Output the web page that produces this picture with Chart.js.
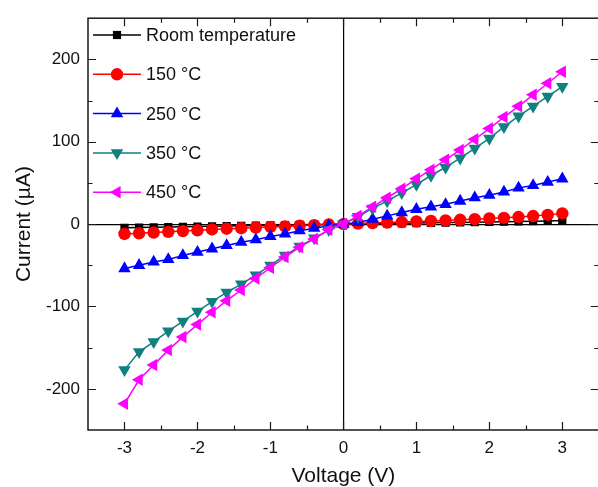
<!DOCTYPE html>
<html>
<head>
<meta charset="utf-8">
<script src="https://cdn.jsdelivr.net/npm/chart.js@4.4.1/dist/chart.umd.min.js"></script>
<style>
html, body { margin: 0; padding: 0; background: #fff; overflow: hidden; }
#wrap { width: 606px; height: 487px; }
</style>
</head>
<body>
<div id="wrap"><canvas id="chart" width="606" height="487"></canvas></div>
<script>
// I-V curves
const voltage = [-3, -2.8, -2.6, -2.4, -2.2, -2, -1.8, -1.6, -1.4, -1.2, -1, -0.8, -0.6, -0.4, -0.2, 0,
                 0.2, 0.4, 0.6, 0.8, 1, 1.2, 1.4, 1.6, 1.8, 2, 2.2, 2.4, 2.6, 2.8, 3];

const roomTemp = [-4.5, -4.2, -3.9, -3.6, -3.3, -3, -2.7, -2.4, -2.1, -1.8, -1.5, -1.2, -0.9, -0.6, -0.3, 0,
                  0.3, 0.5, 0.8, 1, 1.3, 1.5, 1.8, 2, 2.3, 2.6, 2.9, 3.2, 3.5, 3.9, 4.3];
const temp150 = [-12, -11.2, -10.2, -9.4, -8.5, -7.5, -6.5, -5.6, -5, -4.2, -3.4, -2.8, -2, -1.2, -0.5, 0,
                 0.6, 1.2, 1.8, 2.5, 3.2, 3.8, 4.5, 5.2, 6, 6.8, 7.6, 8.6, 9.8, 11.2, 13];
const temp250 = [-54, -50, -46, -43, -38, -34, -30, -26, -22, -19, -15, -12, -8, -5, -2, 0,
                 2, 6, 10, 14, 18, 21, 24, 28, 32, 35, 39, 44, 47, 51, 55];
const temp350 = [-177, -155, -143, -130, -118, -106, -94, -83, -73, -62, -50, -38, -27, -17, -7, 0,
                 9, 19, 28, 38, 48, 59, 69, 80, 92, 104, 118, 131, 143, 155, 167];
const temp450 = [-218, -189, -171, -153, -137, -122, -107, -93, -80, -66, -53, -40, -28, -18, -7, 0,
                 10, 21, 32, 43, 55, 66, 78, 90, 103, 116, 130, 143, 157, 171, 185];

const seriesLabels = ['Room temperature', '150 \u00B0C', '250 \u00B0C', '350 \u00B0C', '450 \u00B0C'];
const seriesValues = [roomTemp, temp150, temp250, temp350, temp450];

const xTicks = [-3, -2, -1, 0, 1, 2, 3];
const xMinorTicks = [-2.5, -1.5, -0.5, 0.5, 1.5, 2.5];
const yTicks = [-200, -100, 0, 100, 200];
const yMinorTicks = [-150, -50, 50, 150];

const STYLES = [
    {color: '#000000', pointStyle: 'rect', radius: 5.8, rotation: 0},
    {color: '#ff0000', pointStyle: 'circle', radius: 6.2, rotation: 0},
    {color: '#0000ff', pointStyle: 'triangle', radius: 7.2, rotation: 0},
    {color: '#0f7f7f', pointStyle: 'triangle', radius: 7.2, rotation: 180},
    {color: '#ff00ff', pointStyle: 'triangle', radius: 7.2, rotation: -90},
];

const FONT = '"Liberation Sans", Arial, sans-serif';

const datasets = seriesValues.map((values, i) => {
    const s = STYLES[i];
    return {
        label: seriesLabels[i],
        data: voltage.map((v, j) => ({x: v, y: values[j]})),
        showLine: true,
        borderColor: s.color,
        backgroundColor: s.color,
        borderWidth: 1.5,
        pointStyle: s.pointStyle,
        pointRadius: s.radius,
        pointRotation: s.rotation,
        pointBorderWidth: 0,
        pointBackgroundColor: s.color,
        order: 5 - i,
    };
});

// frame + inward ticks on all four sides
const frameTicks = {
    id: 'frameTicks',
    afterDatasetsDraw(chart) {
        const {ctx, chartArea: a, scales} = chart;
        const xs = scales.x, ys = scales.y;
        ctx.save();
        ctx.strokeStyle = '#1a1a1a';
        ctx.lineWidth = 1.5;
        ctx.strokeRect(a.left, a.top, a.right - a.left, a.bottom - a.top);
        ctx.lineWidth = 1.2;
        ctx.beginPath();
        const xt = (vals, len) => vals.forEach(v => {
            const px = Math.round(xs.getPixelForValue(v)) + 0.5;
            ctx.moveTo(px, a.bottom); ctx.lineTo(px, a.bottom - len);
            ctx.moveTo(px, a.top); ctx.lineTo(px, a.top + len);
        });
        const yt = (vals, len) => vals.forEach(v => {
            const py = Math.round(ys.getPixelForValue(v)) + 0.5;
            ctx.moveTo(a.left, py); ctx.lineTo(a.left + len, py);
            ctx.moveTo(a.right, py); ctx.lineTo(a.right - len, py);
        });
        xt(xTicks, 8); xt(xMinorTicks, 4.5);
        yt(yTicks, 8); yt(yMinorTicks, 4.5);
        ctx.stroke();
        ctx.restore();
    }
};

// legend in the top-left corner, line with marker like the original
const insetLegend = {
    id: 'insetLegend',
    afterDraw(chart) {
        const {ctx} = chart;
        ctx.save();
        chart.data.datasets.forEach((ds, i) => {
            const y = 35 + i * 39.3;
            ctx.strokeStyle = ds.borderColor;
            ctx.lineWidth = 1.5;
            ctx.beginPath();
            ctx.moveTo(93, y); ctx.lineTo(141, y);
            ctx.stroke();
            ctx.fillStyle = ds.borderColor;
            Chart.helpers.drawPoint(ctx, {
                pointStyle: ds.pointStyle,
                radius: ds.pointRadius,
                rotation: ds.pointRotation,
                borderWidth: 0
            }, 117, y);
            ctx.fillStyle = '#111';
            ctx.font = '18px ' + FONT;
            ctx.textBaseline = 'middle';
            ctx.fillText(ds.label, 146, y + 1);
        });
        ctx.restore();
    }
};

const zeroGrid = (ctx) => ctx.tick && ctx.tick.value === 0 ? '#000' : 'rgba(0,0,0,0)';

new Chart(document.getElementById('chart'), {
    type: 'scatter',
    data: {datasets},
    options: {
        responsive: false,
        animation: false,
        devicePixelRatio: 1,
        layout: {padding: {left: 0, right: 4, top: 13, bottom: 0}},
        plugins: {
            legend: {display: false},
            tooltip: {enabled: false},
        },
        scales: {
            x: {
                type: 'linear',
                min: -3.5,
                max: 3.5,
                afterBuildTicks: (scale) => { scale.ticks = xTicks.map(v => ({value: v})); },
                afterFit: (scale) => { scale.height = 57; },
                grid: {color: zeroGrid, lineWidth: 1.2, drawTicks: false},
                border: {display: false},
                ticks: {color: '#111', font: {family: FONT, size: 17}, padding: 8, maxRotation: 0},
                title: {display: true, text: 'Voltage (V)', color: '#111',
                        font: {family: FONT, size: 21, lineHeight: 1}, padding: {top: 0, bottom: 0}},
            },
            y: {
                type: 'linear',
                min: -250,
                max: 250,
                afterBuildTicks: (scale) => { scale.ticks = yTicks.map(v => ({value: v})); },
                afterFit: (scale) => { scale.width = 88; },
                grid: {color: zeroGrid, lineWidth: 1.2, drawTicks: false},
                border: {display: false},
                ticks: {color: '#111', font: {family: FONT, size: 17}, padding: 8},
                title: {display: true, text: 'Current (\u00B5A)', color: '#111',
                        font: {family: FONT, size: 21, lineHeight: 1}, padding: {top: 14, bottom: 0}},
            },
        },
    },
    plugins: [frameTicks, insetLegend],
});
</script>
</body>
</html>
